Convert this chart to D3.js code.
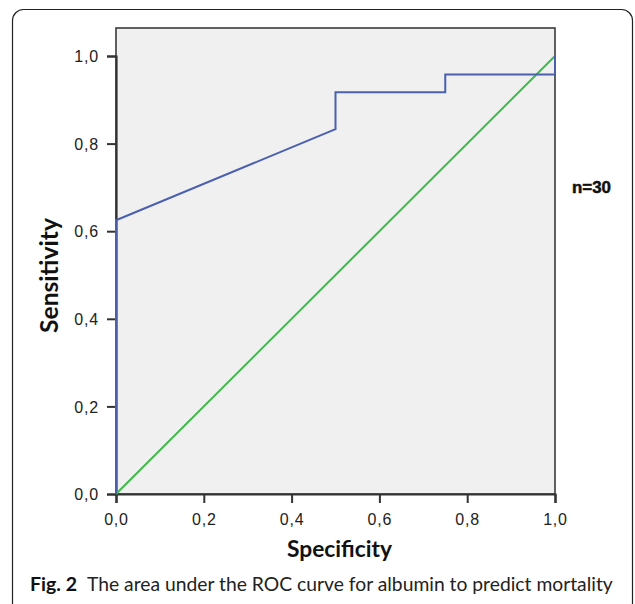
<!DOCTYPE html>
<html><head><meta charset="utf-8">
<script src="https://cdn.jsdelivr.net/npm/d3@7"></script>
<style>body{margin:0;background:#fff}svg{display:block}</style>
</head><body>
<svg id="c" width="635" height="604"></svg>
<script>
// Data
const rocSpecificity = [0, 0, 0.5, 0.5, 0.75, 0.75, 1, 1];
const rocSensitivity = [0, 0.625, 0.833, 0.917, 0.917, 0.958, 0.958, 1];
const refX = [0, 1];
const refY = [0, 1];
const tickValues = [0, 0.2, 0.4, 0.6, 0.8, 1.0];
const tickLabels = ["0,0", "0,2", "0,4", "0,6", "0,8", "1,0"];
const xTitle = "Specificity";
const yTitle = "Sensitivity";
const noteText = "n=30";
const captionBold = "Fig. 2";
const captionText = "The area under the ROC curve for albumin to predict mortality";

const svg = d3.select("#c");
// frame
svg.append("rect").attr("x", 12.5).attr("y", 9.5).attr("width", 620).attr("height", 605)
  .attr("rx", 11).attr("fill", "none").attr("stroke", "#222").attr("stroke-width", 1.2);

const L = 116, R = 555, T = 28, B = 494;
const x = d3.scaleLinear().domain([0, 1]).range([L, R]);
const y = d3.scaleLinear().domain([0, 1]).range([B, 56]);

svg.append("rect").attr("x", L).attr("y", T).attr("width", R - L).attr("height", B - T)
  .attr("fill", "#f0f0f0").attr("stroke", "#3a3a3a").attr("stroke-width", 1.6);

const fmt = d => tickLabels[tickValues.indexOf(d)];
const xAxis = svg.append("g").attr("transform", `translate(0,${B})`)
  .call(d3.axisBottom(x).tickValues(tickValues).tickFormat(fmt).tickSize(9).tickPadding(7));
const yAxis = svg.append("g").attr("transform", `translate(${L},0)`)
  .call(d3.axisLeft(y).tickValues(tickValues).tickFormat(fmt).tickSize(9).tickPadding(8));
[xAxis, yAxis].forEach(a => {
  a.select(".domain").attr("stroke", "#333").attr("stroke-width", 2.2);
  a.selectAll(".tick line").attr("stroke", "#333").attr("stroke-width", 2);
  a.selectAll("text").attr("font-family", "Liberation Sans, Arial, sans-serif")
    .attr("font-size", 16).attr("letter-spacing", 0.8).attr("fill", "#222");
});
yAxis.selectAll("text").attr("dy", "0.36em");
xAxis.selectAll("text").attr("dy", "0.95em");

const line = d3.line().x(d => x(d[0])).y(d => y(d[1]));
svg.append("path").datum(refX.map((v, i) => [v, refY[i]])).attr("d", line)
  .attr("fill", "none").attr("stroke", "#3fb94c").attr("stroke-width", 2);
svg.append("path").datum(rocSpecificity.map((v, i) => [v, rocSensitivity[i]])).attr("d", line)
  .attr("fill", "none").attr("stroke", "#4a60ae").attr("stroke-width", 2);

// fit a text to a target width by adjusting its font size
function fit(sel, base, width) {
  sel.attr("font-size", base);
  const w = sel.node().getComputedTextLength();
  sel.attr("font-size", base * width / w);
  return sel;
}

fit(svg.append("text").attr("x", 287).attr("y", 557)
  .attr("font-family", "Lato, sans-serif").attr("font-weight", "bold")
  .attr("fill", "#111").text(xTitle), 20, 105);
fit(svg.append("text").attr("transform", "translate(58,333) rotate(-90)")
  .attr("font-family", "Lato, sans-serif").attr("font-weight", "bold")
  .attr("fill", "#111").text(yTitle), 20, 115);
fit(svg.append("text").attr("x", 572).attr("y", 193)
  .attr("font-family", "Liberation Sans Narrow, Arial Narrow, sans-serif").attr("font-weight", "bold")
  .attr("stroke", "#111").attr("stroke-width", 0.5)
  .attr("fill", "#111").text(noteText), 16, 39);

svg.append("text").attr("x", 30).attr("y", 591)
  .attr("font-family", "Lato, sans-serif").attr("font-weight", "bold").attr("font-size", 19.5)
  .attr("textLength", 47).attr("lengthAdjust", "spacingAndGlyphs")
  .attr("fill", "#111").text(captionBold);
fit(svg.append("text").attr("x", 87).attr("y", 591)
  .attr("font-family", "Lato, sans-serif")
  .attr("fill", "#222").text(captionText), 20, 526);
</script>
</body></html>
